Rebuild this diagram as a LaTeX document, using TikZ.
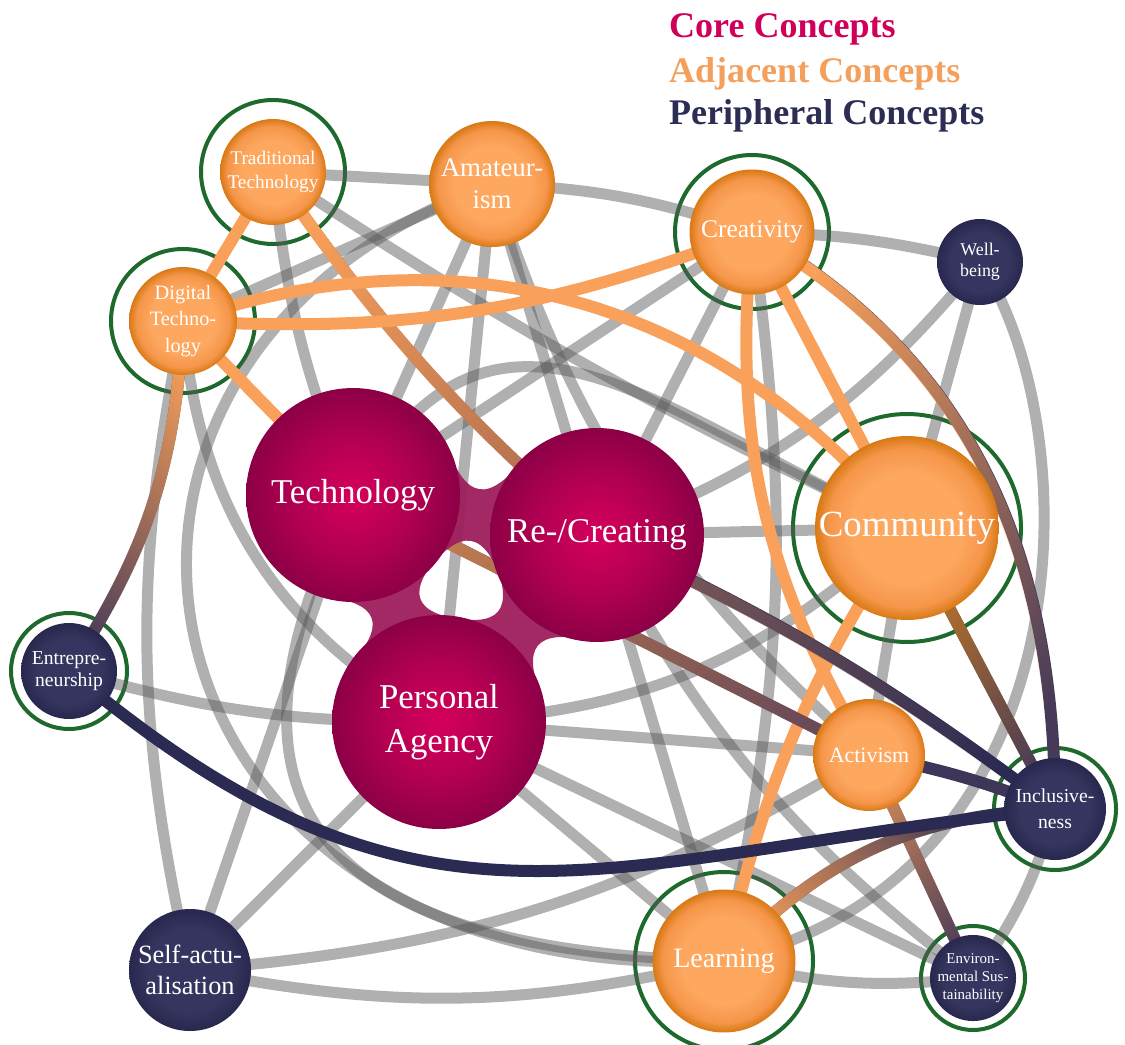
\documentclass[tikz,border=0pt]{standalone}
\usepackage{fontspec}
\setmainfont{Liberation Serif}
\usetikzlibrary{calc,fadings}
\definecolor{orIn}{HTML}{FDA75F}
\definecolor{orMid}{HTML}{F5964A}
\definecolor{orOut}{HTML}{D87915}
\definecolor{nvIn}{HTML}{36355F}
\definecolor{nvOut}{HTML}{28274E}
\definecolor{crIn}{HTML}{D6005B}
\definecolor{crMid}{HTML}{B10052}
\definecolor{crOut}{HTML}{8C0046}
\definecolor{orE}{HTML}{F9A05A}
\definecolor{orBr}{HTML}{C87A22}
\definecolor{orS}{HTML}{D68C5A}
\definecolor{brE}{HTML}{B06E50}
\definecolor{brL}{HTML}{C8804F}
\definecolor{brM}{HTML}{7D5A58}
\definecolor{mvE}{HTML}{6A4A58}
\definecolor{mvD}{HTML}{463A58}
\definecolor{nvE}{HTML}{2B2A52}
\definecolor{nvM}{HTML}{3D3658}
\definecolor{grE}{HTML}{5A5A5A}
\definecolor{ringG}{HTML}{1E6A2D}
\definecolor{legCore}{HTML}{D0005A}
\definecolor{legAdj}{HTML}{F4A05C}
\definecolor{legPer}{HTML}{2B2D55}
\definecolor{bridgeC}{HTML}{9E1E5C}
\pgfdeclareradialshading{orangeball}{\pgfpoint{0bp}{0bp}}{color(0bp)=(orIn); color(15bp)=(orIn); color(21.5bp)=(orMid); color(25bp)=(orOut); color(50bp)=(orOut)}
\pgfdeclareradialshading{navyball}{\pgfpoint{0bp}{0bp}}{color(0bp)=(nvIn); color(17bp)=(nvIn); color(25bp)=(nvOut); color(50bp)=(nvOut)}
\pgfdeclareradialshading{coreball}{\pgfpoint{0bp}{0bp}}{color(0bp)=(crIn); color(14bp)=(crMid); color(25bp)=(crOut); color(50bp)=(crOut)}
\pgfdeclarelayer{ringl}
\pgfdeclarelayer{edgel}
\pgfdeclarelayer{bridgel}
\pgfsetlayers{ringl,edgel,bridgel,main}
\tikzset{
  concept/.style={circle, inner sep=0pt, text=white, align=center, shade},
  core/.style={concept, shading=coreball, minimum size=4.28cm, font=\fontsize{19.8}{25}\selectfont},
  adj/.style={concept, shading=orangeball},
  per/.style={concept, shading=navyball},
  gline/.style={line width=0.22cm, draw=grE, draw opacity=0.48},
  cline/.style={line width=0.24cm},
  ring/.style={line width=0.08cm, draw=ringG},
  legend/.style={anchor=base west, font=\fontsize{20.5}{24}\selectfont\bfseries},
  bridgefill/.style={fill=bridgeC, fill opacity=0.95}
}
\newcommand\coledge[5]{%
  \path (#1.center); \pgfgetlastxy{\ax}{\ay}%
  \path (#2.center); \pgfgetlastxy{\bx}{\by}%
  \pgfmathsetmacro\fang{atan2(\by-\ay,\bx-\ax)}%
  \draw[cline,draw=#4] (#1.center) to[#5] (#2.center);
  \draw[cline,draw=#3,path fading=east,fading angle=\fang] (#1.center) to[#5] (#2.center);}
\newcommand\neck[2]{%
  \fill[bridgefill] ($(#1.center)!2.14cm!40:(#2.center)$)
    .. controls ($(#1.center)!0.45!(#2.center)!0.24cm!90:(#2.center)$)
    and ($(#1.center)!0.55!(#2.center)!0.24cm!90:(#2.center)$)
    .. ($(#2.center)!2.14cm!-40:(#1.center)$)
    -- ($(#2.center)!2.14cm!40:(#1.center)$)
    .. controls ($(#1.center)!0.55!(#2.center)!0.24cm!-90:(#2.center)$)
    and ($(#1.center)!0.45!(#2.center)!0.24cm!-90:(#2.center)$)
    .. ($(#1.center)!2.14cm!-40:(#2.center)$) -- cycle;}
\begin{document}
\begin{tikzpicture}[x=0.02cm,y=-0.02cm]
\useasboundingbox (0,0) rectangle (1125,1044);
% legend
\node[legend, text=legCore] (lcore) at (663,38) {Core Concepts};
\node[legend, text=legAdj] (ladj) at (663,83) {Adjacent Concepts};
\node[legend, text=legPer] (lper) at (663,125) {Peripheral Concepts};
% nodes
\node[adj, minimum size=2.12cm, font=\fontsize{11}{13.6}\selectfont] (TT) at (273,172) {Traditional\\Technology};
\node[adj, minimum size=2.52cm, font=\fontsize{15.3}{18}\selectfont] (AM) at (492,184) {Amateur-\\ism};
\node[adj, minimum size=2.50cm, font=\fontsize{14.5}{17}\selectfont] (CR) at (752,232) {Creativity};
\node[per, minimum size=1.72cm, font=\fontsize{10.2}{12}\selectfont] (WB) at (980,262) {Well-\\being};
\node[adj, minimum size=2.16cm, font=\fontsize{11.6}{15.2}\selectfont] (DT) at (183,321) {Digital\\Techno-\\logy};
\node[core] (TE) at (353,495) {Technology};
\node[core] (RC) at (597,535) {Re-/Creating};
\node[core] (PA) at (439,722) {Personal\\Agency};
\node[adj, minimum size=3.68cm, font=\fontsize{21}{25}\selectfont] (CO) at (907,528) {Community};
\node[per, minimum size=1.92cm, font=\fontsize{11.2}{12.6}\selectfont] (EN) at (69,671) {Entrepre-\\neurship};
\node[adj, minimum size=2.24cm, font=\fontsize{12.5}{15}\selectfont] (AC) at (869,755) {Activism};
\node[per, minimum size=2.04cm, font=\fontsize{11.2}{14.7}\selectfont] (IN) at (1055,809) {Inclusive-\\ness};
\node[adj, minimum size=2.86cm, font=\fontsize{16}{19}\selectfont] (LE) at (724,961) {Learning};
\node[per, minimum size=1.72cm, font=\fontsize{8.5}{10.2}\selectfont] (ES) at (973,978) {Environ-\\mental Sus-\\tainability};
\node[per, minimum size=2.44cm, font=\fontsize{15}{18}\selectfont] (SA) at (190,970) {Self-actu-\\alisation};
% rings
\begin{pgfonlayer}{ringl}
\fill[white] (0,0) rectangle (1125,1044);
\foreach \n/\r in {TT/72,DT/72,CR/77,CO/114,EN/58,IN/61,LE/89,ES/52}
  \draw[ring] (\n.center) circle[radius=\r];
\end{pgfonlayer}
% edges
\begin{pgfonlayer}{edgel}
\draw[gline] (TT.center) -- (AM.center);
\draw[gline] (AM.center) to[bend left=8] (CR.center);
\draw[gline] (CR.center) to[bend left=6] (WB.center);
\draw[gline] (TT.center) to[bend right=8] (TE.center);
\draw[gline] (TT.center) to[bend right=4] (CO.center);
\draw[gline] (AM.center) -- (DT.center);
\draw[gline] (AM.center) .. controls (0,360) and (120,990) .. (LE.center);
\draw[gline] (DT.center) to[bend right=12] (SA.center);
\draw[gline] (DT.center) to[bend right=28] (PA.center);
\draw[gline] (AM.center) -- (TE.center);
\draw[gline] (AM.center) -- (PA.center);
\draw[gline] (AM.center) -- (RC.center);
\draw[gline] (AM.center) to[bend right=15] (AC.center);
\draw[gline] (CR.center) -- (RC.center);
\draw[gline] (TE.center) to[out=60,in=155,looseness=1.3] (CO.center);
\draw[gline] (WB.center) -- (CO.center);
\draw[gline] (WB.center) .. controls (1090,430) and (1090,880) .. (LE.center);
\draw[gline] (WB.center) to[bend left=15] (RC.center);
\draw[gline] (RC.center) -- (CO.center);
\draw[gline] (PA.center) to[bend right=20] (CO.center);
\draw[gline] (CO.center) -- (AC.center);
\draw[gline] (IN.center) to[bend left=10] (ES.center);
\draw[gline] (EN.center) to[bend right=8] (PA.center);
\draw[gline] (SA.center) -- (PA.center);
\draw[gline] (SA.center) to[bend right=12] (LE.center);
\draw[gline] (SA.center) to[bend right=13] (AC.center);
\draw[gline] (TE.center) .. controls (220,760) and (260,950) .. (LE.center);
\draw[gline] (TE.center) -- (SA.center);
\draw[gline] (PA.center) -- (LE.center);
\draw[gline] (RC.center) -- (LE.center);
\draw[gline] (RC.center) to[bend right=12] (ES.center);
\draw[gline] (PA.center) -- (AC.center);
\draw[gline] (PA.center) -- (ES.center);
\draw[gline] (CR.center) -- (TE.center);
\draw[gline] (CR.center) to[bend left=10] (LE.center);
\draw[gline] (LE.center) to[bend right=10] (ES.center);
% coloured edges
\draw[cline,draw=orE] (TT.center) -- (DT.center);
\coledge{TT}{RC}{orE}{brE}{bend right=7}
\draw[cline,draw=orE] (DT.center) -- (TE.center);
\coledge{DT}{EN}{orE}{mvD}{bend left=15}
\draw[cline,draw=orE] (DT.center) to[bend right=12] (CR.center);
\draw[cline,draw=orE] (DT.center) to[bend left=35] (CO.center);
\draw[cline,draw=orE] (CR.center) -- (CO.center);
\draw[cline,draw=orE] (CR.center) to[bend right=18] (AC.center);
\draw[cline,draw=orE] (LE.center) to[bend left=10] (CO.center);
\coledge{CR}{IN}{orE}{mvD}{out=-30,in=90}
\coledge{CO}{IN}{orBr}{mvD}{}
\coledge{RC}{IN}{brM}{nvE}{bend left=6}
\coledge{TE}{AC}{brL}{mvE}{}
\draw[cline,draw=nvM] (AC.center) to[bend left=5] (IN.center);
\coledge{AC}{ES}{orS}{mvD}{}
\coledge{LE}{IN}{orE}{nvE}{bend left=22}
\draw[cline,draw=nvE] (EN.center) to[out=-40,in=186,looseness=1.2] (IN.center);
\end{pgfonlayer}
% bridges between core concepts
\begin{pgfonlayer}{bridgel}
\neck{TE}{RC}
\neck{TE}{PA}
\neck{RC}{PA}
\end{pgfonlayer}
\end{tikzpicture}
\end{document}
